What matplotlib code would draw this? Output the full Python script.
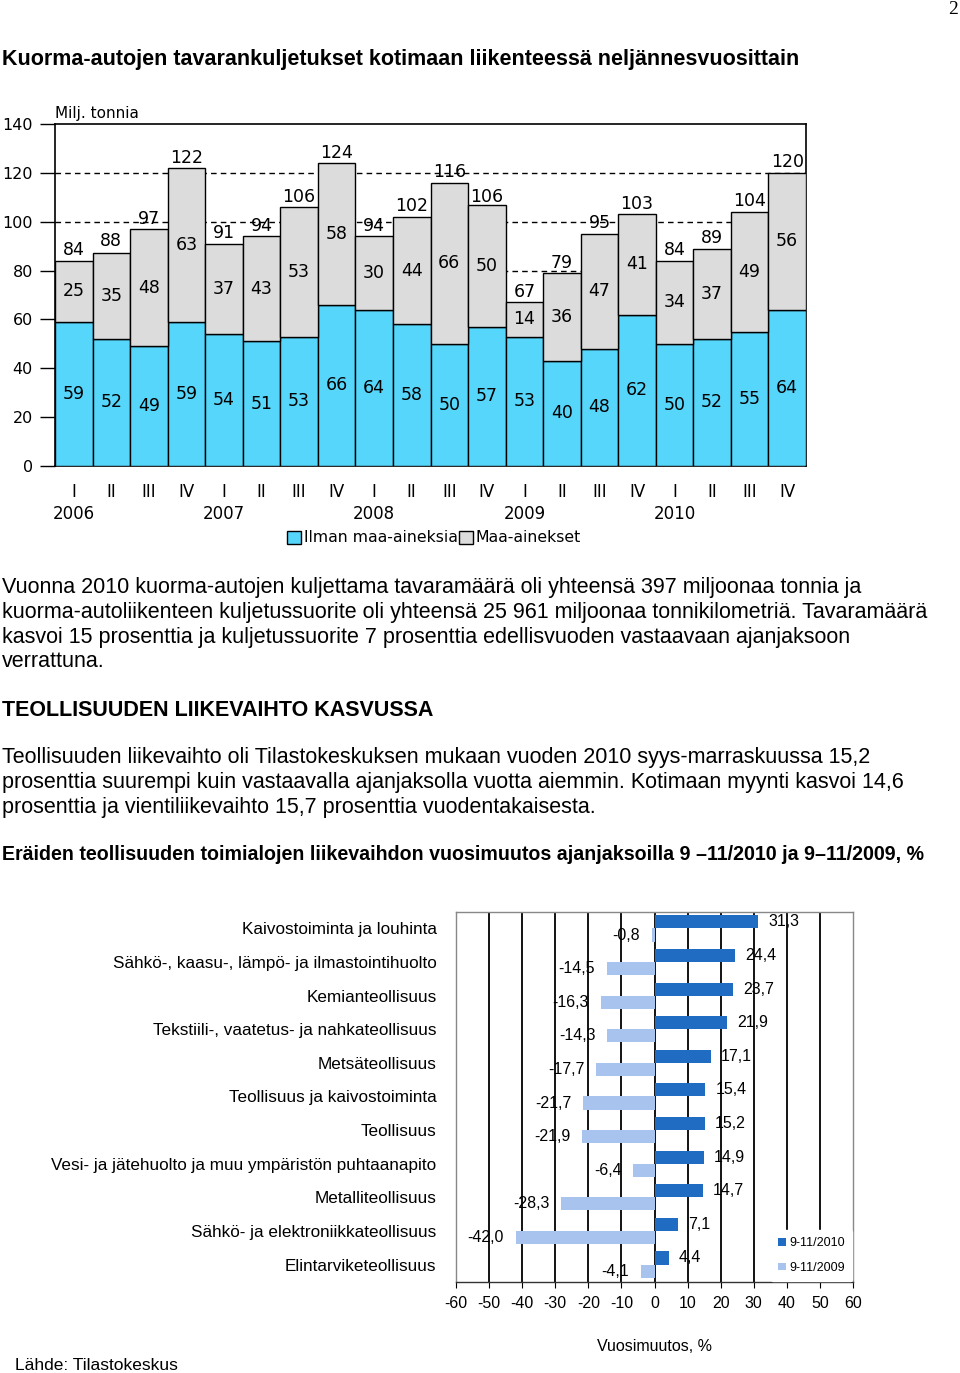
import matplotlib
matplotlib.use("Agg")
import matplotlib.pyplot as plt
from matplotlib.patches import Patch
import numpy as np

W, H = 960, 1373
# ---------------- data ----------------
quarters = ["I", "II", "III", "IV"] * 5
years = ["2006", "2007", "2008", "2009", "2010"]
ilman = [59, 52, 49, 59, 54, 51, 53, 66, 64, 58, 50, 57, 53, 43, 48, 62, 50, 52, 55, 64]
maa = [25, 35, 48, 63, 37, 43, 53, 58, 30, 44, 66, 50, 14, 36, 47, 41, 34, 37, 49, 56]
totals = [84, 88, 97, 122, 91, 94, 106, 124, 94, 102, 116, 106, 67, 79, 95, 103, 84, 89, 104, 120]
ilman_labels = ilman[:]
ilman_labels[13] = 40  # as printed in the source
yticks_top = [0, 20, 40, 60, 80, 100, 120, 140]

categories = ["Kaivostoiminta ja louhinta",
              "Sähkö-, kaasu-, lämpö- ja ilmastointihuolto",
              "Kemianteollisuus",
              "Tekstiili-, vaatetus- ja nahkateollisuus",
              "Metsäteollisuus",
              "Teollisuus ja kaivostoiminta",
              "Teollisuus",
              "Vesi- ja jätehuolto ja muu ympäristön puhtaanapito",
              "Metalliteollisuus",
              "Sähkö- ja elektroniikkateollisuus",
              "Elintarviketeollisuus"]
v2010 = [31.3, 24.4, 23.7, 21.9, 17.1, 15.4, 15.2, 14.9, 14.7, 7.1, 4.4]
v2009 = [-0.8, -14.5, -16.3, -14.3, -17.7, -21.7, -21.9, -6.4, -28.3, -42.0, -4.1]
xticks_bot = list(range(-60, 61, 10))

# ---------------- figure ----------------
fig = plt.figure(figsize=(W / 100, H / 100), dpi=100)
plt.rcParams['font.family'] = ['Liberation Sans', 'DejaVu Sans']

def fx(x):
    return x / W

def fy(y):
    return 1 - y / H

def rect(l, t, r, b):
    return [fx(l), fy(b), fx(r) - fx(l), fy(t) - fy(b)]

# page texts
fig.text(fx(958), fy(9), "2", ha="right", va="center", fontsize=14, family="Liberation Serif")
fig.text(fx(2), fy(60), "Kuorma-autojen tavarankuljetukset kotimaan liikenteessä neljännesvuosittain",
         ha="left", va="center", fontsize=15.5, fontweight="bold")
para1 = ["Vuonna 2010 kuorma-autojen kuljettama tavaramäärä oli yhteensä 397 miljoonaa tonnia ja",
         "kuorma-autoliikenteen kuljetussuorite oli yhteensä 25 961 miljoonaa tonnikilometriä. Tavaramäärä",
         "kasvoi 15 prosenttia ja kuljetussuorite 7 prosenttia edellisvuoden vastaavaan ajanjaksoon",
         "verrattuna."]
for i, line in enumerate(para1):
    fig.text(fx(2), fy(588 + 24.6 * i), line, ha="left", va="center", fontsize=15.5)
fig.text(fx(2), fy(710), "TEOLLISUUDEN LIIKEVAIHTO KASVUSSA", ha="left", va="center",
         fontsize=15.5, fontweight="bold")
para2 = ["Teollisuuden liikevaihto oli Tilastokeskuksen mukaan vuoden 2010 syys-marraskuussa 15,2",
         "prosenttia suurempi kuin vastaavalla ajanjaksolla vuotta aiemmin. Kotimaan myynti kasvoi 14,6",
         "prosenttia ja vientiliikevaihto 15,7 prosenttia vuodentakaisesta."]
for i, line in enumerate(para2):
    fig.text(fx(2), fy(758 + 24.6 * i), line, ha="left", va="center", fontsize=15.5)
fig.text(fx(2), fy(855), "Eräiden teollisuuden toimialojen liikevaihdon vuosimuutos ajanjaksoilla 9 –11/2010 ja 9–11/2009, %",
         ha="left", va="center", fontsize=14.1, fontweight="bold")
fig.text(fx(15), fy(1365), "Lähde: Tilastokeskus", ha="left", va="center", fontsize=12.5)

# ---------------- top chart ----------------
blue = "#55D6FA"
grey = "#DCDCDC"
ax = fig.add_axes(rect(55, 124, 806, 466))
x = np.arange(len(ilman))
ax.bar(x, ilman, width=1.0, color=blue, edgecolor="black", linewidth=1.0, zorder=3)
ax.bar(x, maa, bottom=ilman, width=1.0, color=grey, edgecolor="black", linewidth=1.0, zorder=3)
ax.set_xlim(-0.5, len(ilman) - 0.5)
ax.set_ylim(0, 140)
ax.set_yticks(yticks_top)
ax.set_yticklabels([str(t) for t in yticks_top], family="DejaVu Sans", fontsize=11.5)
for t in yticks_top[1:-1]:
    ax.axhline(t, color="black", linewidth=1.0, linestyle=(0, (4, 3)), zorder=1)
ax.tick_params(axis="y", direction="out", length=11, width=1.0, pad=5)
ax.tick_params(axis="x", length=0, pad=12)
xt = []
for i, q in enumerate(quarters):
    xt.append(q + "\n" + years[i // 4] if q == "I" else q)
ax.set_xticks(x)
ax.set_xticklabels(xt, family="DejaVu Sans", fontsize=12, linespacing=1.3)
for s in ax.spines.values():
    s.set_linewidth(1.2)
for i in range(len(ilman)):
    ax.text(x[i], ilman[i] / 2, str(ilman_labels[i]), ha="center", va="center",
            fontsize=12.5, family="DejaVu Sans", zorder=5)
    ax.text(x[i], ilman[i] + maa[i] / 2, str(maa[i]), ha="center", va="center",
            fontsize=12.5, family="DejaVu Sans", zorder=5)
    ax.text(x[i], totals[i] + 0.6, str(totals[i]), ha="center", va="bottom",
            fontsize=12.5, family="DejaVu Sans", zorder=5)
ax.text(0, 1.01, "Milj. tonnia", transform=ax.transAxes, ha="left", va="bottom",
        fontsize=11, family="DejaVu Sans")
handles = [Patch(facecolor=blue, edgecolor="black", label="Ilman maa-aineksia"),
           Patch(facecolor=grey, edgecolor="black", label="Maa-ainekset")]
fig.legend(handles=handles, loc="center", bbox_to_anchor=(fx(434), fy(538)), ncol=2,
           frameon=False, prop={"family": "DejaVu Sans", "size": 11.3},
           handlelength=0.9, handleheight=0.9, handletextpad=0.15, columnspacing=0.1,
           borderpad=0, borderaxespad=0)

# ---------------- bottom chart ----------------
dark = "#1F6CC2"
light = "#A8C3EE"
bx = fig.add_axes(rect(456, 912, 853, 1282))
y = np.arange(len(categories))
off = 0.195
hgt = 0.39
bx.barh(y - off, v2010, height=hgt, color=dark, zorder=3, label="9-11/2010")
bx.barh(y + off, v2009, height=hgt, color=light, zorder=3, label="9-11/2009")
bx.set_xlim(-60, 60)
bx.set_ylim(len(categories) - 0.48, -0.49)
bx.set_xticks(xticks_bot)
bx.set_xticklabels([str(t) for t in xticks_bot], fontsize=11.5)
bx.set_yticks(y)
bx.set_yticklabels(categories, fontsize=12.3)
bx.tick_params(axis="y", length=0, pad=14)
bx.tick_params(axis="x", direction="out", length=4, pad=6)
for t in xticks_bot[1:-1]:
    bx.axvline(t, color="black", linewidth=1.3, zorder=1)
for name, s in bx.spines.items():
    s.set_color("#888888" if name != "bottom" else "#333333")
    s.set_linewidth(1.0)
for i in range(len(categories)):
    bx.text(v2010[i] + 3, y[i] - off, f"{v2010[i]:.1f}".replace(".", ","), ha="left",
            va="center", fontsize=11.5, zorder=5)
    bx.text(v2009[i] - 3.5, y[i] + off, f"{v2009[i]:.1f}".replace(".", ","), ha="right",
            va="center", fontsize=11.5, zorder=5)
bx.set_xlabel("Vuosimuutos, %", fontsize=11.5, labelpad=20)
leg = bx.legend(loc="lower right", frameon=True, fontsize=9, handlelength=0.6, handleheight=0.6,
                handletextpad=0.3, labelspacing=1.0, borderpad=0.6, borderaxespad=0.05)
leg.get_frame().set_edgecolor("white")
leg.get_frame().set_facecolor("white")
leg.get_frame().set_alpha(1)
leg.set_zorder(6)

fig.savefig("out.png", dpi=100)
